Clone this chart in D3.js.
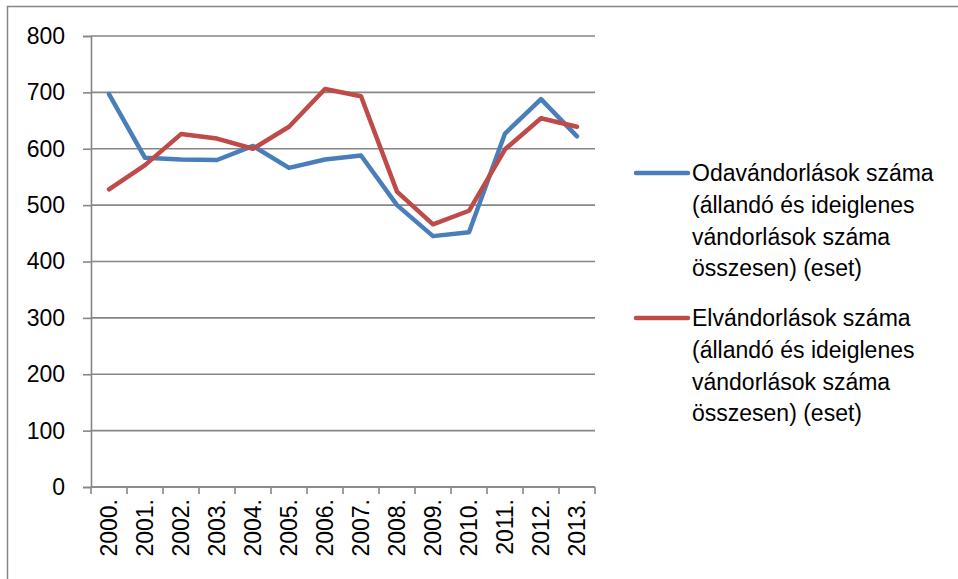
<!DOCTYPE html>
<html>
<head>
<meta charset="utf-8">
<script src="https://cdn.jsdelivr.net/npm/d3@7"></script>
<style>
  body { margin: 0; background: #fff; }
  text { font-family: "Liberation Sans", Arial, sans-serif; fill: #000; }
</style>
</head>
<body>
<div id="chart"></div>
<script>
// data
var years = ["2000.","2001.","2002.","2003.","2004.","2005.","2006.","2007.","2008.","2009.","2010.","2011.","2012.","2013."];
var odavandorlas = [697, 584, 581, 580, 605, 566, 581, 588, 500, 445, 452, 627, 688, 622];
var elvandorlas  = [528, 571, 626, 618, 600, 639, 706, 693, 524, 466, 490, 599, 654, 639];
var yTicks = [0, 100, 200, 300, 400, 500, 600, 700, 800];
var seriesNames = [
  ["Odavándorlások száma", "(állandó és ideiglenes", "vándorlások száma", "összesen) (eset)"],
  ["Elvándorlások száma", "(állandó és ideiglenes", "vándorlások száma", "összesen) (eset)"]
];
var colors = ["#4a7ebb", "#be4b48"];

var W = 958, H = 579;
var plot = {left: 91, right: 595, top: 36, bottom: 487};
var grey = "#868686";
var fontSize = "23px";

var svg = d3.select("#chart").append("svg")
  .attr("width", W).attr("height", H);

// outer frame (only top and left visible)
svg.append("path")
  .attr("d", "M7.5," + H + "V6.5H" + W)
  .attr("fill", "none").attr("stroke", grey).attr("stroke-width", 1.5);

var x = d3.scaleBand().domain(years).range([plot.left, plot.right]);
var y = d3.scaleLinear().domain([0, 800]).range([plot.bottom, plot.top]);

// gridlines
svg.append("g").selectAll("line")
  .data(yTicks)
  .enter().append("line")
    .attr("x1", plot.left).attr("x2", plot.right)
    .attr("y1", function(d){ return y(d); })
    .attr("y2", function(d){ return y(d); })
    .attr("stroke", grey).attr("stroke-width", 1.6);

// y axis
var yAxis = svg.append("g")
  .attr("transform", "translate(" + plot.left + ",0)")
  .call(d3.axisLeft(y).tickValues(yTicks).tickSize(8).tickPadding(18));
yAxis.select(".domain").attr("stroke", grey).attr("stroke-width", 1.6);
yAxis.selectAll(".tick line").attr("stroke", grey).attr("stroke-width", 1.6);
yAxis.selectAll("text").style("font-size", fontSize).attr("fill", "#000");

// x axis with ticks on band boundaries
var xAxis = svg.append("g")
  .attr("transform", "translate(0," + plot.bottom + ")");
xAxis.append("line")
  .attr("x1", plot.left).attr("x2", plot.right)
  .attr("stroke", grey).attr("stroke-width", 1.6);
var bounds = years.map(function(d){ return x(d); }).concat([plot.right]);
xAxis.selectAll(".xt").data(bounds).enter().append("line")
  .attr("class", "xt")
  .attr("x1", function(d){ return d; }).attr("x2", function(d){ return d; })
  .attr("y1", 0).attr("y2", 7)
  .attr("stroke", grey).attr("stroke-width", 1.6);
xAxis.selectAll(".xl").data(years).enter().append("text")
  .attr("class", "xl")
  .attr("transform", function(d){
    return "translate(" + (x(d) + x.bandwidth() / 2) + ",12) rotate(-90)";
  })
  .attr("text-anchor", "end")
  .attr("dy", "0.35em")
  .style("font-size", fontSize)
  .text(function(d){ return d; });

// lines
var line = d3.line()
  .x(function(d, i){ return x(years[i]) + x.bandwidth() / 2; })
  .y(function(d){ return y(d); });

[odavandorlas, elvandorlas].forEach(function(vals, k) {
  svg.append("path")
    .datum(vals)
    .attr("d", line)
    .attr("fill", "none")
    .attr("stroke", colors[k])
    .attr("stroke-width", 4.5)
    .attr("stroke-linejoin", "round")
    .attr("stroke-linecap", "round");
});

// legend
var legendY = [173, 318];
seriesNames.forEach(function(lines, k) {
  var g = svg.append("g").attr("transform", "translate(0," + legendY[k] + ")");
  g.append("line")
    .attr("x1", 636).attr("x2", 688)
    .attr("stroke", colors[k]).attr("stroke-width", 4.5)
    .attr("stroke-linecap", "round");
  g.selectAll("text").data(lines).enter().append("text")
    .attr("x", 692)
    .attr("y", function(d, i){ return i * 31.8; })
    .attr("dy", "0.35em")
    .style("font-size", fontSize)
    .text(function(d){ return d; });
});
</script>
</body>
</html>
